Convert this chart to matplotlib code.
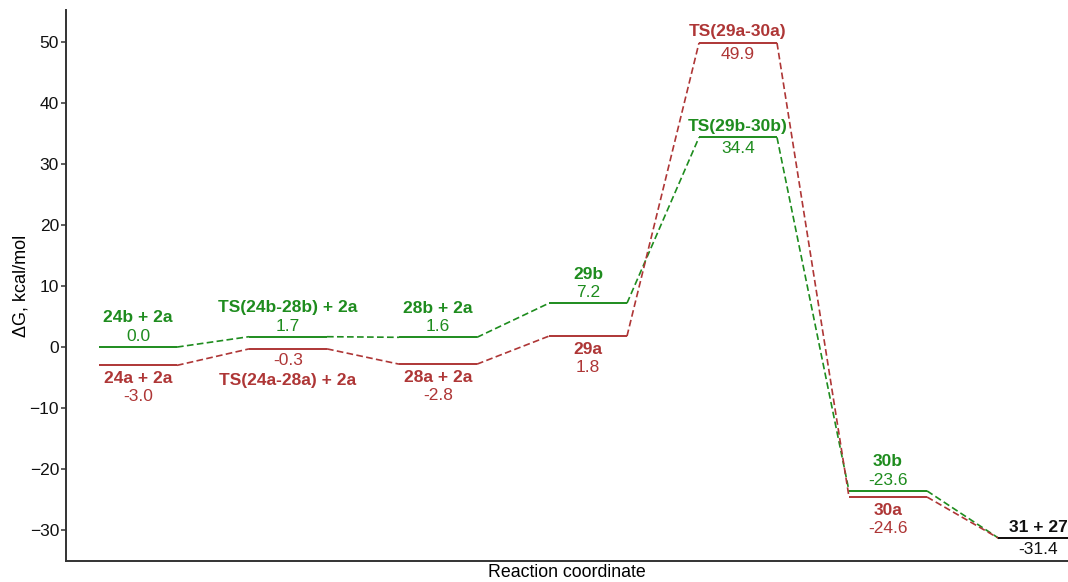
import matplotlib
matplotlib.use("Agg")
import matplotlib.pyplot as plt

plt.rcParams["font.family"] = ["Liberation Sans", "DejaVu Sans"]

# Free energy profile (kcal/mol) for the two pathways
green_names = ["24b + 2a", "TS(24b-28b) + 2a", "28b + 2a", "29b", "TS(29b-30b)", "30b"]
green_values = [0.0, 1.7, 1.6, 7.2, 34.4, -23.6]
red_names = ["24a + 2a", "TS(24a-28a) + 2a", "28a + 2a", "29a", "TS(29a-30a)", "30a"]
red_values = [-3.0, -0.3, -2.8, 1.8, 49.9, -24.6]
product_name = "31 + 27"
product_value = -31.4

# Label placement per stage: (name offset, value offset) in points
green_offsets = [(21, 7.5), (21, 7.5), (21, 7.5), (21, 7.5), (8, -8), (21, 7.5)]
red_offsets = [(-9.5, -22.5), (-22.5, -8.5), (-9.5, -22.5), (-9.5, -22.5), (8, -8), (-9.5, -22.5)]

GREEN = "#1E8C1E"
RED = "#AE3636"
BLACK = "#111111"
WIDTH = 0.52
LABEL_SIZE = 12.5

fig = plt.figure(figsize=(10.68, 5.82), dpi=100)
ax = fig.add_axes([66 / 1068, 21 / 582, 1 - 66 / 1068, 551 / 582])


def draw_path(values, color):
    xs = list(range(len(values)))
    for x, v in zip(xs, values):
        ax.plot([x, x + WIDTH], [v, v], color=color, lw=1.4, solid_capstyle="butt", zorder=3)
    for i in range(len(values) - 1):
        ax.plot([xs[i] + WIDTH, xs[i + 1]], [values[i], values[i + 1]],
                color=color, lw=1.2, ls=(0, (4, 2)), zorder=2)


def label(x, v, text, dy, color, bold):
    ax.annotate(text, (x + WIDTH / 2, v), xytext=(0, dy), textcoords="offset points",
                ha="center", va="center", color=color, fontsize=LABEL_SIZE,
                fontweight="bold" if bold else "normal", zorder=4)


n = len(green_values)
draw_path(green_values + [product_value], GREEN)
draw_path(red_values + [product_value], RED)
ax.plot([n, n + WIDTH], [product_value, product_value], color=BLACK, lw=1.4, zorder=4)

for i in range(n):
    label(i, green_values[i], green_names[i], green_offsets[i][0], GREEN, True)
    label(i, green_values[i], f"{green_values[i]:.1f}", green_offsets[i][1], GREEN, False)
    label(i, red_values[i], red_names[i], red_offsets[i][0], RED, True)
    label(i, red_values[i], f"{red_values[i]:.1f}", red_offsets[i][1], RED, False)
label(n, product_value, product_name, 8, BLACK, True)
label(n, product_value, f"{product_value:.1f}", -8, BLACK, False)

ax.set_xlim(-0.22, 6.46)
ax.set_ylim(-35.1, 55.3)
ax.set_yticks([-30, -20, -10, 0, 10, 20, 30, 40, 50])
ax.set_xticks([])
ax.tick_params(axis="y", labelsize=12.5, colors="#333333", labelcolor="#111111",
               length=3.5, width=1.1, pad=1.5)
for side in ("top", "right"):
    ax.spines[side].set_visible(False)
for side in ("left", "bottom"):
    ax.spines[side].set_color("#333333")
    ax.spines[side].set_linewidth(1.4)
ax.set_xlabel("Reaction coordinate", fontsize=12.8, labelpad=2.5)
ax.set_ylabel("ΔG, kcal/mol", fontsize=13, labelpad=0)

fig.savefig("out.png", dpi=100)
